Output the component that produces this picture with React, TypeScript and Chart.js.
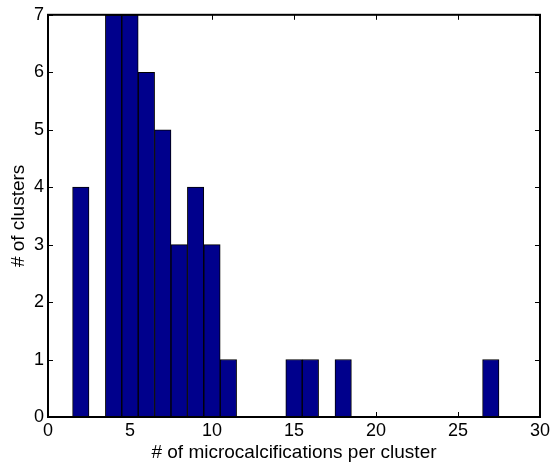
import { useEffect, useRef } from "react";
import { Chart, registerables } from "chart.js";

Chart.register(...registerables);

const binCenters = [2, 4, 5, 6, 7, 8, 9, 10, 11, 15, 16, 18, 27];
const clusterCounts = [4, 7, 7, 6, 5, 3, 4, 3, 1, 1, 1, 1, 1];
const xTicks = [0, 5, 10, 15, 20, 25, 30];
const yTicks = [0, 1, 2, 3, 4, 5, 6, 7];
const xTitle = "# of microcalcifications per cluster";
const yTitle = "# of clusters";

const FONT = "'Liberation Sans', Helvetica, Arial, sans-serif";

const boxPlugin = {
  id: "matlabBox",
  beforeDatasetsDraw(chart: any) {
    const { ctx, chartArea } = chart;
    const { left, right, top, bottom } = chartArea;
    const xs = chart.scales.x;
    const ys = chart.scales.y;
    const tl = 5;
    ctx.save();
    ctx.strokeStyle = "#000";
    ctx.lineWidth = 1;
    ctx.beginPath();
    xTicks.forEach((v) => {
      const px = Math.round(xs.getPixelForValue(v)) + 0.5;
      ctx.moveTo(px, bottom);
      ctx.lineTo(px, bottom - tl);
      ctx.moveTo(px, top);
      ctx.lineTo(px, top + tl);
    });
    yTicks.forEach((v) => {
      const py = Math.round(ys.getPixelForValue(v)) + 0.5;
      ctx.moveTo(left, py);
      ctx.lineTo(left + tl, py);
      ctx.moveTo(right, py);
      ctx.lineTo(right - tl, py);
    });
    ctx.stroke();
    ctx.restore();
  },
  afterDatasetsDraw(chart: any) {
    const { ctx, chartArea } = chart;
    const { left, right, top, bottom } = chartArea;
    ctx.save();
    ctx.strokeStyle = "#000";
    ctx.lineWidth = 2;
    ctx.strokeRect(left, top, right - left, bottom - top);
    ctx.restore();
  },
};

export default function App() {
  const ref = useRef<HTMLCanvasElement | null>(null);

  useEffect(() => {
    if (!ref.current) return;
    const chart = new Chart(ref.current, {
      type: "bar",
      data: {
        datasets: [
          {
            data: binCenters.map((x, i) => ({ x, y: clusterCounts[i] })) as any,
            backgroundColor: "rgb(0,0,140)",
            borderColor: "#000",
            borderWidth: 1,
            borderSkipped: false,
            barPercentage: 1,
            categoryPercentage: 1,
          },
        ],
      },
      options: {
        responsive: false,
        animation: false,
        devicePixelRatio: 1,
        layout: { padding: { top: 13, right: 12, left: 0, bottom: 0 } },
        plugins: {
          legend: { display: false },
          tooltip: { enabled: false },
        },
        scales: {
          x: {
            type: "linear",
            min: 0,
            max: 30,
            offset: false,
            grid: { display: false, drawTicks: false, offset: false },
            border: { display: false },
            afterBuildTicks: (s: any) => {
              s.ticks = xTicks.map((v) => ({ value: v }));
            },
            afterFit: (s: any) => {
              s.height = 49;
            },
            ticks: {
              color: "#000",
              padding: 3,
              maxRotation: 0,
              autoSkip: false,
              font: { family: FONT, size: 18 },
            },
            title: {
              display: true,
              text: xTitle,
              color: "#000",
              font: { family: FONT, size: 19 },
              padding: { top: 0, bottom: 2 },
            },
          },
          y: {
            type: "linear",
            min: 0,
            max: 7,
            grid: { display: false, drawTicks: false },
            border: { display: false },
            afterBuildTicks: (s: any) => {
              s.ticks = yTicks.map((v) => ({ value: v }));
            },
            afterFit: (s: any) => {
              s.width = 48;
            },
            ticks: {
              color: "#000",
              padding: 4,
              autoSkip: false,
              font: { family: FONT, size: 18 },
            },
            title: {
              display: true,
              text: yTitle,
              color: "#000",
              font: { family: FONT, size: 19 },
              padding: { top: 7, bottom: 0 },
            },
          },
        },
      },
      plugins: [boxPlugin],
    });
    return () => chart.destroy();
  }, []);

  return (
    <div style={{ position: "absolute", left: 0, top: 0, width: 553, height: 466, background: "#fff" }}>
      <canvas ref={ref} width={553} height={466} style={{ display: "block" }} />
    </div>
  );
}
